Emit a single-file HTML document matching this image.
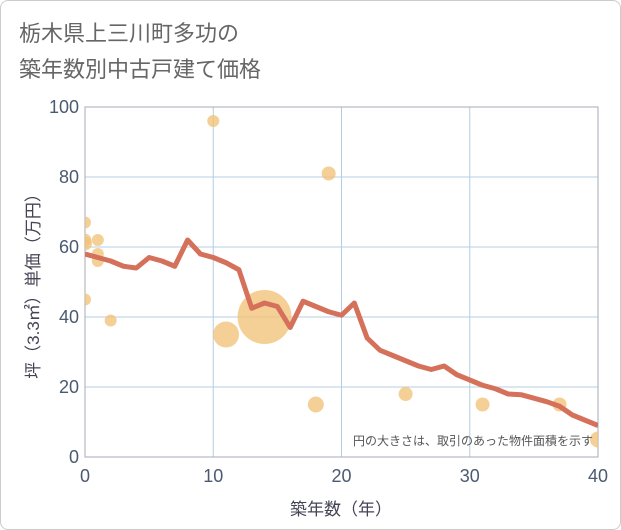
<!DOCTYPE html>
<html><head><meta charset="utf-8"><style>
body{margin:0;background:#fff;font-family:"Liberation Sans","Noto Sans CJK JP",sans-serif}
#wrap{position:relative;width:619px;height:528px;border:1px solid #ccc;border-radius:8px;overflow:hidden}
</style></head><body>
<div id="wrap">
<svg id="c" width="621" height="530">
<defs><clipPath id="pc"><rect x="84" y="106" width="513" height="350"/></clipPath></defs>
<text x="18" y="40" font-size="22" fill="#666">栃木県上三川町多功の</text>
<text x="18" y="76" font-size="22" fill="#666">築年数別中古戸建て価格</text>
<text x="340" y="514" font-size="17" fill="#445" text-anchor="middle">築年数（年）</text>
<text transform="translate(38,281) rotate(-90)" font-size="17" fill="#445" text-anchor="middle">坪（3.3㎡）単価（万円）</text>
<g id="grid"></g><g id="bub" clip-path="url(#pc)"></g><g id="ln" clip-path="url(#pc)"></g>
<text x="592" y="444" font-size="12" fill="#555" text-anchor="end">円の大きさは、取引のあった物件面積を示す</text>
</svg></div>
<script>
const xTicks=[0,10,20,30,40];
const yTicks=[0,20,40,60,80,100];
const lineYears=[0,1,2,3,4,5,6,7,8,9,10,11,12,13,14,15,16,17,18,19,20,21,22,23,24,25,26,27,28,29,30,31,32,33,34,35,36,37,38,39,40];
const linePrices=[58,57,56,54.5,54,57,56,54.5,62,58,57,55.5,53.5,42.5,44,43,37,44.5,43,41.5,40.5,44,34,30.5,29,27.5,26,25,26,23.5,22,20.5,19.5,18,17.8,16.8,15.8,14.5,12,10.5,9];
const bubbleYears=[0,0,0,1,1,1,0,2,10,11,14,18,19,25,31,37,40];
const bubblePrices=[67,61,62,62,58,56,45,39,96,35,40,15,81,18,15,15,5];
const bubbleAreas=[36,49,40,36,36,36,36,36,36,169,729,64,49,49,49,49,64];
const X=v=>84+v*(597-84)/40, Y=v=>456-v*3.5;
const NS="http://www.w3.org/2000/svg";
function mk(t,a,p){const e=document.createElementNS(NS,t);for(const k in a)e.setAttribute(k,a[k]);p.appendChild(e);return e;}
const g=document.getElementById('grid');
xTicks.forEach(t=>{
 const l=mk('line',{x1:X(t),x2:X(t),y1:Y(100),y2:Y(0),stroke:t==0?'#889':'#b5cde0','stroke-width':1},g);
 
 
 const s=mk('text',{x:X(t),y:481,'font-size':18,fill:'#4a5a70','text-anchor':'middle'},g);s.textContent=t;
 
 
});
yTicks.forEach(t=>{
 const l=mk('line',{x1:X(0),x2:X(40),y1:Y(t),y2:Y(t),stroke:t==0?'#889':'#b5cde0','stroke-width':1},g);
 
 
 const s=mk('text',{x:78,y:Y(t)+6,'font-size':18,fill:'#4a5a70','text-anchor':'end'},g);s.textContent=t;
 
 
});
const fr=mk('rect',{x:X(0),y:Y(100),width:X(40)-X(0),height:Y(0)-Y(100),fill:'none',stroke:'#aab'},g);


const b=document.getElementById('bub');
bubbleYears.forEach((yr,i)=>{
 const c=mk('circle',{cx:X(yr),cy:Y(bubblePrices[i]),r:Math.sqrt(bubbleAreas[i]),fill:'#f2c073','fill-opacity':0.75},b);
 
 
});
const p=mk('polyline',{points:lineYears.map((yr,i)=>X(yr)+','+Y(linePrices[i])).join(' '),fill:'none',stroke:'#d5705a','stroke-width':5,'stroke-linejoin':'round'},document.getElementById('ln'));


</script>
</body></html>
